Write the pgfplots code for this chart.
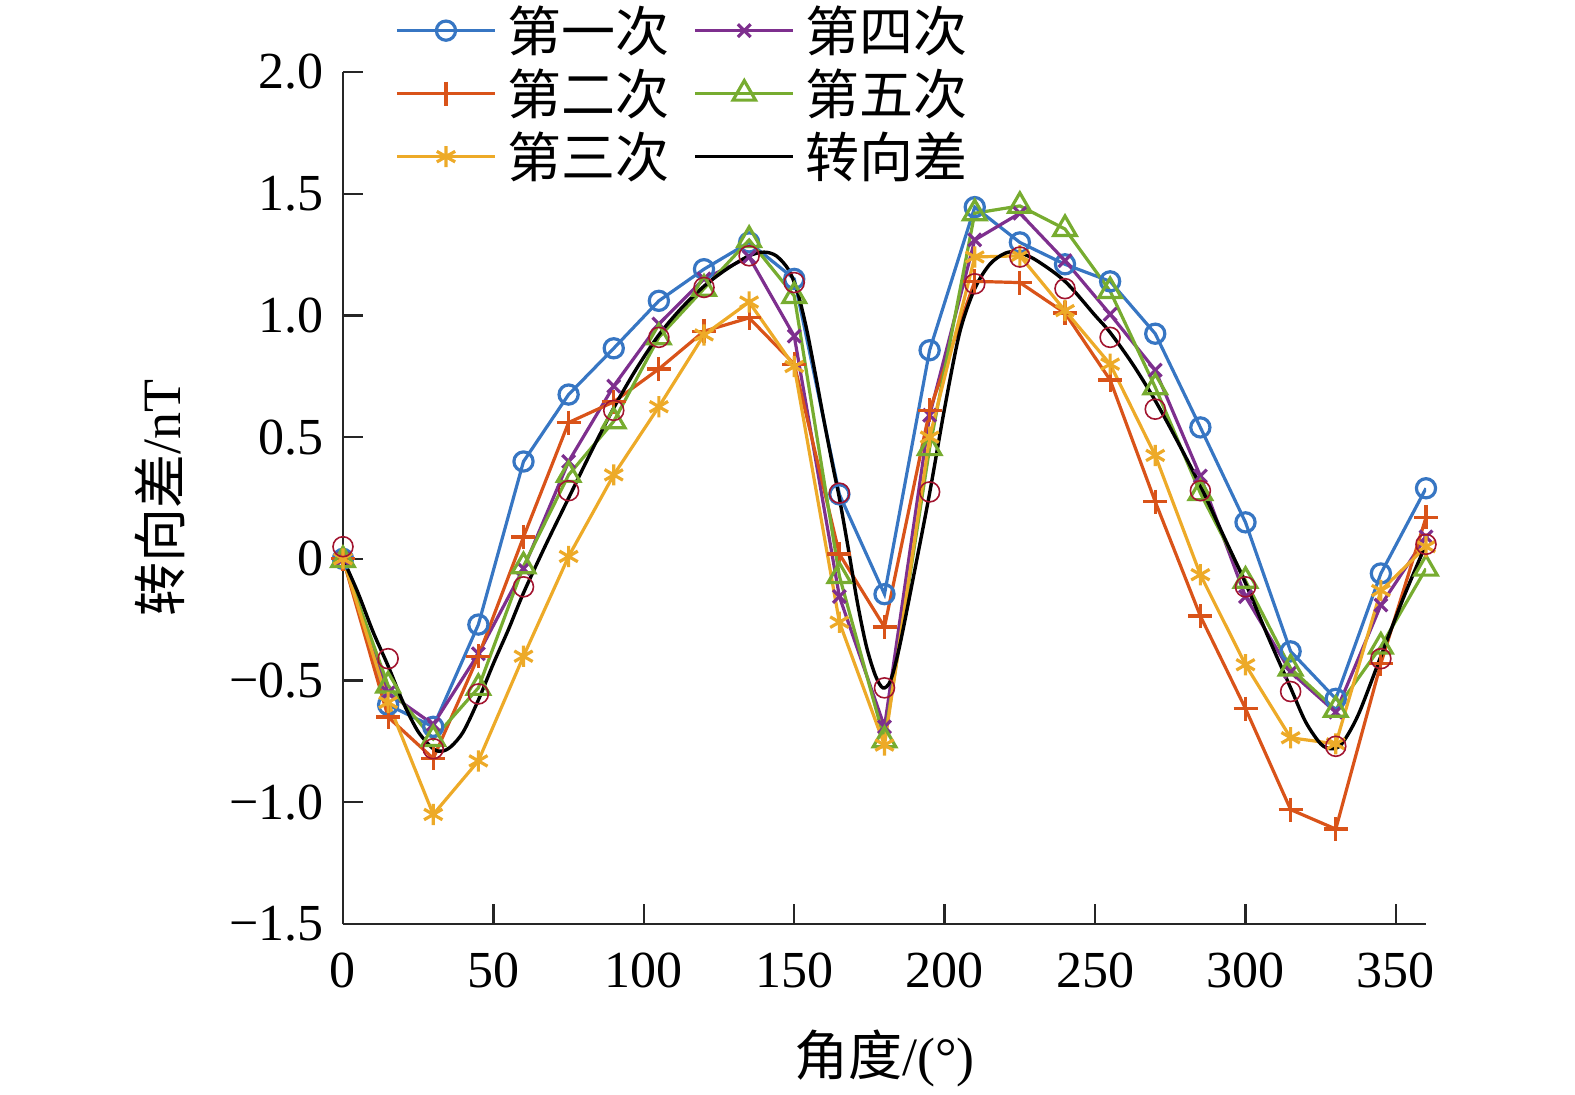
\documentclass[border=0pt]{standalone}
\usepackage{fontspec}
\setmainfont{Liberation Serif}
\newfontfamily\cjk{Noto Sans CJK SC}
\usepackage{pgfplots}
\pgfplotsset{compat=1.18}
\definecolor{cblue}{RGB}{55,118,195}
\definecolor{cred}{RGB}{217,83,25}
\definecolor{cyellow}{RGB}{237,170,40}
\definecolor{cpurple}{RGB}{126,47,142}
\definecolor{cgreen}{RGB}{119,172,48}
\definecolor{cdark}{RGB}{162,20,47}
\begin{document}
\begin{tikzpicture}
\begin{axis}[
  width=541.5pt, height=426pt, scale only axis,
  xmin=0, xmax=360, ymin=-1.5, ymax=2,
  axis lines*=left,
  axis line style={line width=1.4pt, black!85},
  xtick={0,50,100,150,200,250,300,350},
  xticklabels={0,50,100,150,200,250,300,350},
  ytick={-1.5,-1,-0.5,0,0.5,1,1.5,2},
  yticklabels={−1.5,−1.0,−0.5,0,0.5,1.0,1.5,2.0},
  tick align=inside, major tick length=10pt,
  tick style={line width=1.2pt, black!85},
  ticklabel style={font=\fontsize{26}{30}\selectfont},
  xticklabel style={yshift=-11pt},
  yticklabel style={xshift=-6pt},
  xlabel={{\cjk 角度}/(°)},
  ylabel={{\cjk 转向差}/nT},
  label style={font=\fontsize{27}{32}\selectfont},
  xlabel style={at={(axis description cs:0.5,-0.158)}, anchor=center},
  ylabel style={at={(axis description cs:-0.169,0.5)}, anchor=center},
  legend columns=2,
  legend cell align=left,
  legend style={draw=none, fill=none, inner sep=0pt,
    at={(axis description cs:0.048,1.086)}, anchor=north west,
    font=\fontsize{27}{32}\selectfont,
    nodes={inner sep=0pt, minimum height=31.5pt},
    /tikz/every odd column/.append style={column sep=5.5pt},
    /tikz/every even column/.append style={column sep=12pt}},
  legend image code/.code={\draw[mark repeat=2,mark phase=2] plot coordinates {(0pt,0pt) (24.5pt,0pt) (49pt,0pt)};},
]
% 第一次
\addplot[cblue, line width=1.6pt, mark=o, mark size=4.8pt, mark options={solid, line width=1.6pt}] coordinates {
(0,0) (15,-0.60) (30,-0.69) (45,-0.27) (60,0.40) (75,0.675) (90,0.865) (105,1.06) (120,1.19) (135,1.30) (150,1.15) (165,0.265) (180,-0.145) (195,0.857) (210,1.445) (225,1.30) (240,1.21) (255,1.14) (270,0.925) (285,0.54) (300,0.15) (315,-0.38) (330,-0.575) (345,-0.06) (360,0.29)};
\addlegendentry{\cjk 第一次}
% 第四次
\addplot[cpurple, line width=1.6pt, mark=x, mark size=4.5pt, mark options={solid, line width=1.6pt}] coordinates {
(0,0) (15,-0.55) (30,-0.68) (45,-0.39) (60,-0.04) (75,0.40) (90,0.71) (105,0.965) (120,1.15) (135,1.24) (150,0.915) (165,-0.155) (180,-0.69) (195,0.59) (210,1.31) (225,1.42) (240,1.225) (255,1.005) (270,0.775) (285,0.34) (300,-0.155) (315,-0.465) (330,-0.63) (345,-0.19) (360,0.09)};
\addlegendentry{\cjk 第四次}
% 第二次
\addplot[cred, line width=1.6pt, mark=+, mark size=6pt, mark options={solid, line width=1.6pt}] coordinates {
(0,0) (15,-0.65) (30,-0.82) (45,-0.40) (60,0.09) (75,0.56) (90,0.645) (105,0.78) (120,0.935) (135,0.99) (150,0.80) (165,0.02) (180,-0.28) (195,0.61) (210,1.14) (225,1.135) (240,1.01) (255,0.735) (270,0.235) (285,-0.235) (300,-0.615) (315,-1.03) (330,-1.11) (345,-0.43) (360,0.17)};
\addlegendentry{\cjk 第二次}
% 第五次
\addplot[cgreen, line width=1.6pt, mark=triangle, mark size=6.5pt, mark options={solid, line width=1.6pt}] coordinates {
(0,-0.005) (15,-0.52) (30,-0.74) (45,-0.53) (60,-0.03) (75,0.345) (90,0.565) (105,0.91) (120,1.11) (135,1.31) (150,1.08) (165,-0.07) (180,-0.745) (195,0.455) (210,1.42) (225,1.45) (240,1.355) (255,1.10) (270,0.705) (285,0.27) (300,-0.09) (315,-0.45) (330,-0.62) (345,-0.36) (360,-0.04)};
\addlegendentry{\cjk 第五次}
% 第三次
\addplot[cyellow, line width=1.6pt, mark=asterisk, mark size=5.3pt, mark options={solid, line width=1.6pt}] coordinates {
(0,0) (15,-0.59) (30,-1.05) (45,-0.83) (60,-0.40) (75,0.01) (90,0.345) (105,0.625) (120,0.92) (135,1.055) (150,0.79) (165,-0.26) (180,-0.765) (195,0.50) (210,1.24) (225,1.245) (240,1.02) (255,0.80) (270,0.425) (285,-0.065) (300,-0.435) (315,-0.735) (330,-0.76) (345,-0.13) (360,0.05)};
\addlegendentry{\cjk 第三次}
% 转向差 (fitted curve)
\addplot[black, line width=1.7pt, smooth, tension=0.5] coordinates {
(0,0) (5,-0.14) (10,-0.30) (15,-0.44) (20,-0.59) (25,-0.71) (30,-0.78) (33,-0.79) (36,-0.77) (40,-0.71) (45,-0.58) (50,-0.43) (55,-0.29) (60,-0.14) (67.5,0.06) (75,0.25) (82.5,0.44) (90,0.62) (97.5,0.78) (105,0.92) (112.5,1.03) (120,1.12) (127.5,1.19) (135,1.245) (140,1.26) (144,1.245) (148,1.19) (151,1.10) (154,0.95) (157,0.76) (160,0.56) (163,0.37) (165,0.25) (168,0.04) (171,-0.18) (174,-0.36) (177,-0.48) (179.5,-0.53) (182,-0.50) (185,-0.36) (190,-0.05) (195,0.27) (200,0.62) (205,0.93) (210,1.11) (215,1.21) (220,1.255) (224,1.26) (230,1.23) (240,1.14) (250,1.00) (255,0.93) (262.5,0.80) (270,0.65) (277.5,0.48) (285,0.30) (292.5,0.10) (300,-0.10) (307.5,-0.32) (315,-0.53) (320,-0.67) (325,-0.76) (328.5,-0.78) (332,-0.76) (337.5,-0.64) (345,-0.40) (352.5,-0.16) (360,0.06)};
\addlegendentry{\cjk 转向差}
% mean points
\addplot[cdark, only marks, mark=o, mark size=5pt, mark options={line width=0.8pt}, forget plot] coordinates {
(0,0.05) (15,-0.41) (30,-0.78) (45,-0.555) (60,-0.115) (75,0.28) (90,0.61) (105,0.91) (120,1.115) (135,1.245) (150,1.135) (165,0.27) (180,-0.53) (195,0.275) (210,1.13) (225,1.24) (240,1.11) (255,0.91) (270,0.615) (285,0.28) (300,-0.115) (315,-0.545) (330,-0.77) (345,-0.41) (360,0.06)};
\end{axis}
\pgfresetboundingbox
\path[use as bounding box] (-171.5pt,-85pt) rectangle (616pt,462pt);
\end{tikzpicture}
\end{document}
